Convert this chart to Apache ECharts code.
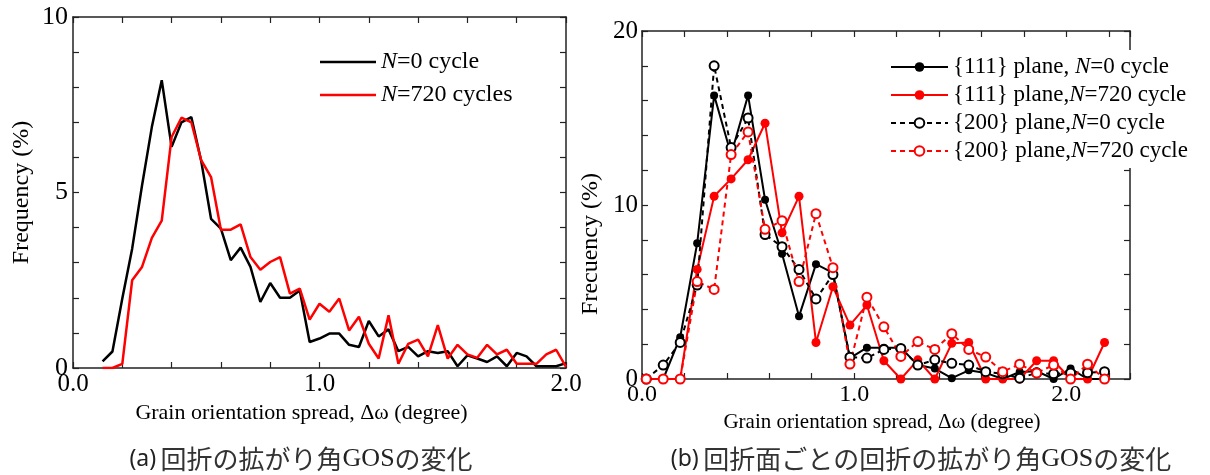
<!DOCTYPE html>
<html>
<head>
<meta charset="utf-8">
<title>GOS</title>
<script src="https://cdn.jsdelivr.net/npm/echarts@6.0.0/dist/echarts.min.js"></script>
<style>
html, body { margin: 0; padding: 0; background: #fff; }
#chart { width: 1210px; height: 475px; }
</style>
</head>
<body>
<div id="chart"></div>
<script>
// (a) GOS distribution, N=0 vs N=720
const gosA = [0.12, 0.16, 0.20, 0.24, 0.28, 0.32, 0.36, 0.40, 0.44, 0.48, 0.52, 0.56,
    0.60, 0.64, 0.68, 0.72, 0.76, 0.80, 0.84, 0.88, 0.92, 0.96, 1.00, 1.04,
    1.08, 1.12, 1.16, 1.20, 1.24, 1.28, 1.32, 1.36, 1.40, 1.44, 1.48, 1.52,
    1.56, 1.60, 1.64, 1.68, 1.72, 1.76, 1.80, 1.84, 1.88, 1.92, 1.96, 2.00];
const freqA0 = [0.19, 0.47, 1.98, 3.4, 5.2, 6.87, 8.2, 6.3, 7.0, 7.15, 5.9, 4.25,
    3.97, 3.07, 3.43, 2.88, 1.88, 2.42, 2.0, 2.0, 2.21, 0.74, 0.84, 0.98,
    0.98, 0.66, 0.6, 1.34, 0.9, 1.1, 0.48, 0.6, 0.33, 0.48, 0.43, 0.48,
    0.05, 0.36, 0.27, 0.17, 0.33, 0.05, 0.43, 0.33, 0.05, 0.05, 0.05, 0.14];
const freqA720 = [0, 0, 0.12, 2.5, 2.88, 3.71, 4.2, 6.58, 7.13, 7.0, 5.92, 5.44,
    3.94, 3.94, 4.09, 3.16, 2.8, 3.02, 3.16, 2.12, 2.26, 1.38, 1.83, 1.6,
    1.98, 1.07, 1.46, 0.69, 0.27, 1.5, 0.12, 0.69, 0.81, 0.33, 1.22, 0.27,
    0.66, 0.39, 0.29, 0.66, 0.39, 0.52, 0.12, 0.12, 0.12, 0.39, 0.52, 0.03];

// (b) GOS per diffraction plane
const gosB = [0.02, 0.10, 0.18, 0.26, 0.34, 0.42, 0.50, 0.58, 0.66, 0.74, 0.82, 0.90,
    0.98, 1.06, 1.14, 1.22, 1.30, 1.38, 1.46, 1.54, 1.62, 1.70, 1.78, 1.86,
    1.94, 2.02, 2.10, 2.18];
const p111N0 = [0, 0, 2.4, 7.8, 16.3, 12.9, 16.3, 10.3, 7.2, 3.6, 6.6, 6.1,
    1.2, 1.8, 1.8, 1.8, 0.8, 0.6, 0.05, 0.5, 0.35, 0, 0.4, 0.45,
    0, 0.6, 0, 0];
const p111N720 = [0, 0, 0, 6.3, 10.5, 11.5, 12.6, 14.7, 8.4, 10.5, 2.1, 5.3,
    3.1, 4.25, 1.05, 0, 1.1, 0, 2.05, 2.1, 0, 0, 0, 1.05,
    1.05, 0, 0, 2.1];
const p200N0 = [0, 0.8, 2.1, 5.4, 18.0, 13.3, 15.0, 8.3, 7.6, 6.3, 4.6, 6.0,
    1.25, 1.2, 1.7, 1.76, 0.8, 1.1, 0.9, 0.8, 0.42, 0.3, 0.05, 0.35,
    0.3, 0.35, 0.36, 0.42];
const p200N720 = [0, 0, 0, 5.6, 5.15, 12.9, 14.2, 8.6, 9.1, 5.6, 9.5, 6.4,
    0.86, 4.7, 3.0, 1.3, 2.15, 1.7, 2.6, 1.7, 1.26, 0.42, 0.85, 0.35,
    0.8, 0, 0.85, 0];

const serif = '"Liberation Serif", "Times New Roman", serif';
const axisColor = '#222';

const pairs = (xs, ys) => xs.map((x, i) => [x, ys[i]]);
const xLabel = v => (Math.abs(v - Math.round(v)) < 1e-6 ? v.toFixed(1) : '');

// shared axis bits
const frame = {
    axisLine: { show: true, onZero: false, lineStyle: { color: axisColor, width: 1.5 } },
    axisTick: { show: true, inside: true, length: 6, lineStyle: { color: axisColor, width: 1.2 } },
    splitLine: { show: false }
};

const xAx = (grid, max, pos, extra) => Object.assign({
    gridIndex: grid, type: 'value', min: 0, max: max, interval: 0.2, position: pos
}, frame, extra);

const yAx = (grid, max, interval, pos, extra) => Object.assign({
    gridIndex: grid, type: 'value', min: 0, max: max, interval: interval, position: pos
}, frame, extra);

const noLabel = { axisLabel: { show: false } };

// caption text styles (thin, not bold)
const captionRich = {
    p: { fontFamily: '"Noto Sans", sans-serif', fontSize: 23, fontWeight: 'normal', color: '#222' },
    j: { fontFamily: '"Noto Sans CJK JP"', fontSize: 26, fontWeight: 'normal', color: '#333' },
    g: { fontFamily: serif, fontSize: 26, fontWeight: 'normal', color: '#222' }
};

const chart = echarts.init(document.getElementById('chart'));

const option = {
    animation: false,
    backgroundColor: '#fff',
    textStyle: { fontFamily: serif, color: '#000' },
    title: [
        {
            text: '{p|(a)} {j|回折の拡がり角}{g|GOS}{j|の変化}',
            left: 296, top: 441, textAlign: 'center',
            textStyle: { fontWeight: 'normal', rich: captionRich }
        },
        {
            text: '{p|(b)} {j|回折面ごとの回折の拡がり角}{g|GOS}{j|の変化}',
            left: 916, top: 441, textAlign: 'center',
            textStyle: { fontWeight: 'normal', rich: captionRich }
        }
    ],
    grid: [
        { left: 73, top: 17, width: 493, height: 351 },
        { left: 642, top: 31, width: 488, height: 348 }
    ],
    legend: [
        {
            left: 315, top: 45, orient: 'vertical',
            icon: 'rect', itemWidth: 56, itemHeight: 2.5, itemGap: 9,
            data: ['N=0 cycle', 'N=720 cycles'],
            formatter: name => name.replace(/^N/, '{i|N}'),
            textStyle: {
                fontFamily: serif, fontSize: 24, lineHeight: 24, color: '#000',
                rich: { i: { fontFamily: serif, fontStyle: 'italic', fontSize: 24, lineHeight: 24, color: '#000' } }
            }
        },
        {
            left: 886, top: 50, orient: 'vertical',
            itemWidth: 57, itemHeight: 12, itemGap: 4,
            padding: [5, 8, 5, 4],
            backgroundColor: '#fff',
            data: ['{111} plane, N=0 cycle', '{111} plane,N=720 cycle',
                '{200} plane,N=0 cycle', '{200} plane,N=720 cycle'],
            formatter: name => name.replace(/N=/, '{i|N}='),
            textStyle: {
                fontFamily: serif, fontSize: 23, lineHeight: 24, color: '#000',
                rich: { i: { fontFamily: serif, fontStyle: 'italic', fontSize: 23, lineHeight: 24, color: '#000' } }
            }
        }
    ],
    xAxis: [
        xAx(0, 2, 'bottom', {
            axisLabel: { formatter: xLabel, fontFamily: serif, fontSize: 25, color: '#000', margin: 4 },
            name: 'Grain orientation spread, Δω (degree)',
            nameLocation: 'middle', nameGap: 32,
            nameTextStyle: { fontFamily: serif, fontSize: 22, color: '#000', padding: [0, 36, 0, 0] }
        }),
        xAx(0, 2, 'top', noLabel),
        xAx(1, 2.3, 'bottom', {
            axisLabel: { formatter: xLabel, fontFamily: serif, fontSize: 24, color: '#000', margin: 4 },
            name: 'Grain orientation spread, Δω (degree)',
            nameLocation: 'middle', nameGap: 30,
            nameTextStyle: { fontFamily: serif, fontSize: 21, color: '#000', padding: [0, 8, 0, 0] }
        }),
        xAx(1, 2.3, 'top', noLabel)
    ],
    yAxis: [
        yAx(0, 10, 1, 'left', {
            axisLabel: { formatter: v => (v % 5 === 0 ? String(v) : ''), fontFamily: serif, fontSize: 26, color: '#000', margin: 5 },
            name: 'Frequency (%)', nameLocation: 'middle', nameGap: 39,
            nameTextStyle: { fontFamily: serif, fontSize: 24, color: '#000' }
        }),
        yAx(0, 10, 1, 'right', noLabel),
        yAx(1, 20, 2, 'left', {
            axisLabel: { formatter: v => (v % 10 === 0 ? String(v) : ''), fontFamily: serif, fontSize: 25, color: '#000', margin: 4 },
            name: 'Frecuency (%)', nameLocation: 'middle', nameGap: 39,
            nameTextStyle: { fontFamily: serif, fontSize: 24, color: '#000', padding: [0, 78, 0, 0] }
        }),
        yAx(1, 20, 2, 'right', noLabel)
    ],
    series: [
        {
            name: 'N=0 cycle', type: 'line', xAxisIndex: 0, yAxisIndex: 0,
            data: pairs(gosA, freqA0), symbol: 'none',
            lineStyle: { color: '#000', width: 2.5 }, itemStyle: { color: '#000' }
        },
        {
            name: 'N=720 cycles', type: 'line', xAxisIndex: 0, yAxisIndex: 0,
            data: pairs(gosA, freqA720), symbol: 'none',
            lineStyle: { color: '#ff0000', width: 2.5 }, itemStyle: { color: '#ff0000' }
        },
        {
            name: '{111} plane, N=0 cycle', type: 'line', xAxisIndex: 2, yAxisIndex: 2,
            data: pairs(gosB, p111N0), symbol: 'circle', symbolSize: 8,
            lineStyle: { color: '#000', width: 2 }, itemStyle: { color: '#000' }
        },
        {
            name: '{111} plane,N=720 cycle', type: 'line', xAxisIndex: 2, yAxisIndex: 2,
            data: pairs(gosB, p111N720), symbol: 'circle', symbolSize: 9,
            lineStyle: { color: '#ff0000', width: 2 }, itemStyle: { color: '#ff0000' }
        },
        {
            name: '{200} plane,N=0 cycle', type: 'line', xAxisIndex: 2, yAxisIndex: 2,
            data: pairs(gosB, p200N0), symbol: 'emptyCircle', symbolSize: 9,
            lineStyle: { color: '#000', width: 2, type: [5, 4] },
            itemStyle: { color: '#000', borderWidth: 1.5 }
        },
        {
            name: '{200} plane,N=720 cycle', type: 'line', xAxisIndex: 2, yAxisIndex: 2,
            data: pairs(gosB, p200N720), symbol: 'emptyCircle', symbolSize: 9,
            lineStyle: { color: '#ff0000', width: 2, type: [5, 4] },
            itemStyle: { color: '#ff0000', borderWidth: 1.5 }
        }
    ]
};

chart.setOption(option);
</script>
</body>
</html>
